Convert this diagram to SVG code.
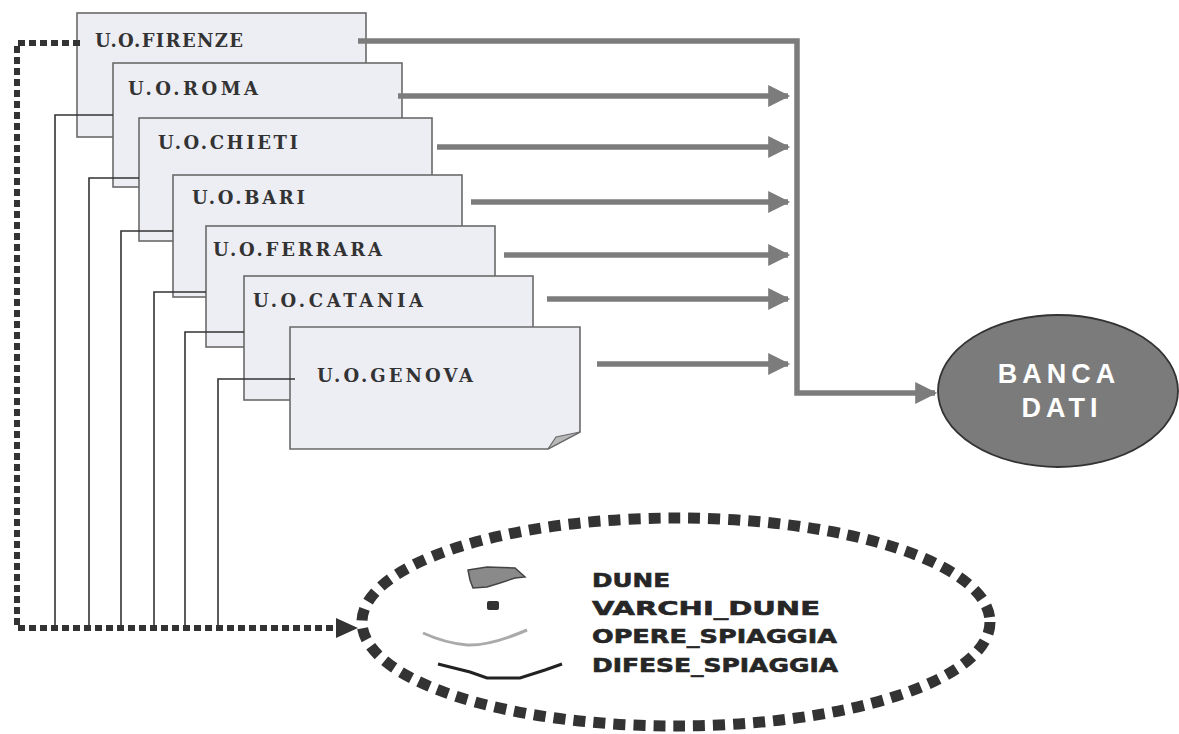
<svg xmlns="http://www.w3.org/2000/svg" width="1179" height="734" viewBox="0 0 1179 734">
  <style>
    .card { fill: #ededf4; stroke: #6a6a6a; stroke-width: 1.6; }
    .uo { font-family: "DejaVu Serif", "Liberation Serif", serif; font-weight: bold; font-size: 18px; fill: #333; }
    .feed { fill: none; stroke: #7c7c7c; stroke-width: 5.5; }
    .link { fill: none; stroke: #333; stroke-width: 1.6; }
    .dots { fill: none; stroke: #333; stroke-width: 6; stroke-dasharray: 7 4; }
    .legend { font-family: "DejaVu Sans", "Liberation Sans", sans-serif; font-weight: bold; font-size: 20px; fill: #262626; stroke: #262626; stroke-width: 0.6; }
    .db { font-family: "Liberation Sans", Arial, sans-serif; font-weight: bold; font-size: 27px; fill: #ffffff; letter-spacing: 5px; }
  </style>
  <defs>
    <marker id="grayHead" viewBox="0 0 10 10" refX="9" refY="5" markerUnits="userSpaceOnUse" markerWidth="26" markerHeight="22" orient="auto">
      <path d="M0,0 L10,5 L0,10 Z" fill="#7c7c7c"/>
    </marker>
  </defs>

  <!-- operating-unit cards, back to front -->
  <g id="uo-firenze">
    <rect class="card" x="77" y="13" width="289" height="124"/>
    <text class="uo" x="95" y="47" textLength="148" lengthAdjust="spacing">U.O.FIRENZE</text>
  </g>
  <g id="uo-roma">
    <rect class="card" x="113" y="63" width="289" height="124"/>
    <text class="uo" x="128" y="95" textLength="130" lengthAdjust="spacing">U.O.ROMA</text>
  </g>
  <g id="uo-chieti">
    <rect class="card" x="139" y="118" width="293" height="123"/>
    <text class="uo" x="158" y="149" textLength="140" lengthAdjust="spacing">U.O.CHIETI</text>
  </g>
  <g id="uo-bari">
    <rect class="card" x="173" y="175" width="289" height="122"/>
    <text class="uo" x="192" y="204" textLength="113" lengthAdjust="spacing">U.O.BARI</text>
  </g>
  <g id="uo-ferrara">
    <rect class="card" x="206" y="226" width="289" height="121"/>
    <text class="uo" x="213" y="256" textLength="169" lengthAdjust="spacing">U.O.FERRARA</text>
  </g>
  <g id="uo-catania">
    <rect class="card" x="244" y="276" width="289" height="124"/>
    <text class="uo" x="253" y="307" textLength="170" lengthAdjust="spacing">U.O.CATANIA</text>
  </g>
  <g id="uo-genova">
    <path class="card" d="M290,327 H580 V432 L548,449 H290 Z"/>
    <path d="M580,432 L548,449 L556,437 Z" fill="#b8b8b8" stroke="#6a6a6a" stroke-width="1.2"/>
    <text class="uo" x="317" y="382" textLength="156" lengthAdjust="spacing">U.O.GENOVA</text>
  </g>

  <!-- database node -->
  <g id="banca-dati">
    <ellipse cx="1058" cy="391" rx="120" ry="76" fill="#7b7b7b" stroke="#333" stroke-width="1.8"/>
    <text class="db" x="1059" y="383" text-anchor="middle">BANCA</text>
    <text class="db" x="1062" y="417" text-anchor="middle">DATI</text>
  </g>

  <!-- coastal feature layers -->
  <g id="layers">
    <ellipse cx="676" cy="622" rx="314" ry="104" fill="none" stroke="#333" stroke-width="11" stroke-dasharray="12 8"/>
    <path d="M468,570 L487,567 L515,568 L525,577 L515,578 L500,583 L487,587 L473,588 L470,580 Z" fill="#8a8a8a" stroke="#444" stroke-width="1.5"/>
    <rect x="487" y="601" width="12" height="9" rx="2" fill="#333"/>
    <path d="M423,633 Q445,643 467,645 Q490,646 527,630" fill="none" stroke="#aaaaaa" stroke-width="3"/>
    <path d="M438,664 L470,672 L487,678 L520,678 L545,670 L562,664" fill="none" stroke="#222" stroke-width="3"/>
    <text class="legend" x="592" y="587" textLength="78" lengthAdjust="spacingAndGlyphs">DUNE</text>
    <text class="legend" x="592" y="615" textLength="228" lengthAdjust="spacingAndGlyphs">VARCHI_DUNE</text>
    <text class="legend" x="592" y="643" textLength="245" lengthAdjust="spacingAndGlyphs">OPERE_SPIAGGIA</text>
    <text class="legend" x="592" y="672" textLength="246" lengthAdjust="spacingAndGlyphs">DIFESE_SPIAGGIA</text>
  </g>

  <!-- connectors -->
  <g id="connectors">
    <!-- data feeds to the database -->
    <path class="feed" d="M358,41 H797 V393 H935" marker-end="url(#grayHead)"/>
    <path class="feed" d="M398,96 H788" marker-end="url(#grayHead)"/>
    <path class="feed" d="M437,147 H788" marker-end="url(#grayHead)"/>
    <path class="feed" d="M471,202 H788" marker-end="url(#grayHead)"/>
    <path class="feed" d="M504,255 H788" marker-end="url(#grayHead)"/>
    <path class="feed" d="M547,299 H788" marker-end="url(#grayHead)"/>
    <path class="feed" d="M597,364 H788" marker-end="url(#grayHead)"/>

    <!-- unit links down to the layer bus -->
    <path class="link" d="M113,115 H55 V626"/>
    <path class="link" d="M139,178 H89 V626"/>
    <path class="link" d="M173,231 H121 V626"/>
    <path class="link" d="M206,292 H154 V626"/>
    <path class="link" d="M244,332 H185 V626"/>
    <path class="link" d="M295,379 H218 V626"/>

    <!-- layer bus -->
    <path class="dots" d="M80,43 H17 V628 H340"/>
    <path d="M336,618 L358,628 L336,638 Z" fill="#333"/>
  </g>
</svg>
